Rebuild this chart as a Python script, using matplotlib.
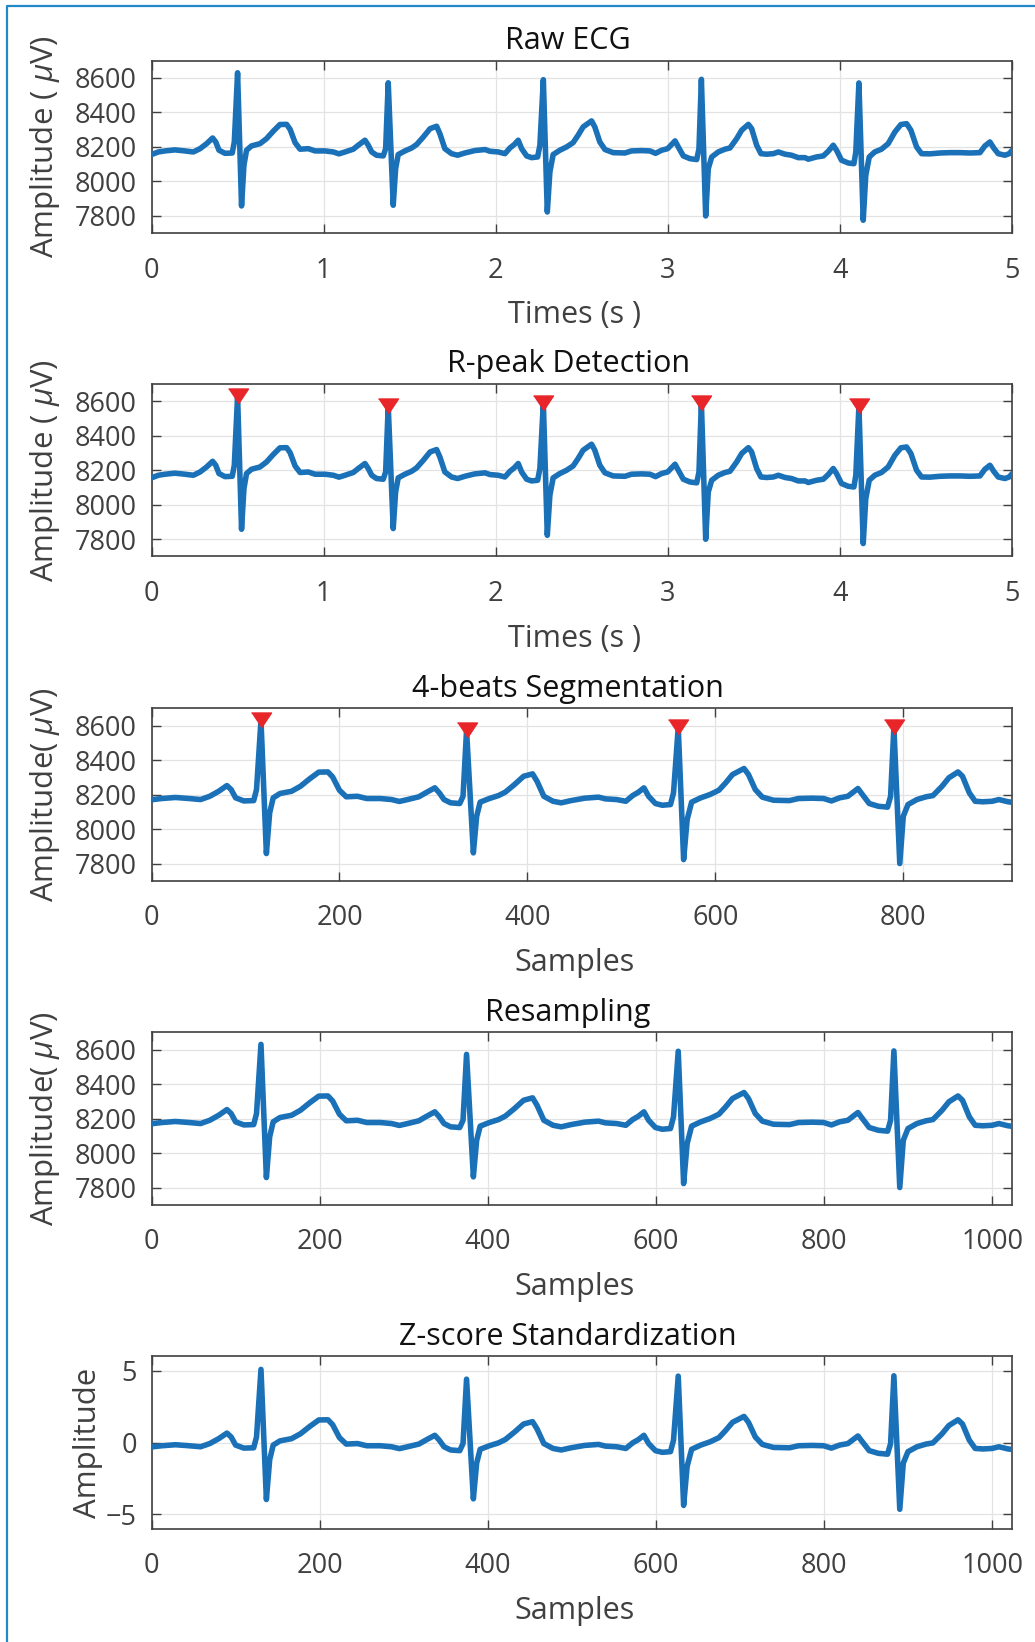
import numpy as np
import matplotlib.pyplot as plt
from matplotlib.lines import Line2D

plt.rcParams['font.family'] = ['Open Sans', 'DejaVu Sans']
plt.rcParams['mathtext.fontset'] = 'custom'
plt.rcParams['mathtext.rm'] = 'Open Sans'
plt.rcParams['mathtext.it'] = 'Open Sans:italic'

FS = 250              # Hz
SEG_START = 0.034     # s, start of the 4-beat segment
SEG_LEN = 916         # samples in the segment
RESAMPLED_LEN = 1024  # samples after resampling
Z_MEAN = 8196.0       # uV
Z_STD = 85.3          # uV

# raw ECG trace (time in s, amplitude in uV)
raw_t = [0.000, 0.040, 0.078, 0.136, 0.194, 0.243, 0.282, 0.320, 0.355, 0.373,
         0.392, 0.427, 0.469, 0.481, 0.500, 0.523, 0.537, 0.552, 0.581, 0.630,
         0.668, 0.707, 0.746, 0.785, 0.805, 0.834, 0.863, 0.911, 0.950, 1.008,
         1.056, 1.089, 1.124, 1.172, 1.201, 1.240, 1.259, 1.279, 1.307, 1.346,
         1.360, 1.375, 1.404, 1.418, 1.433, 1.472, 1.511, 1.540, 1.579, 1.618,
         1.656, 1.675, 1.704, 1.743, 1.778, 1.820, 1.878, 1.937, 1.966, 2.014,
         2.053, 2.082, 2.107, 2.130, 2.150, 2.179, 2.208, 2.243, 2.256, 2.276,
         2.299, 2.314, 2.333, 2.372, 2.411, 2.449, 2.478, 2.507, 2.556, 2.575,
         2.604, 2.634, 2.682, 2.750, 2.788, 2.846, 2.895, 2.928, 2.963, 2.998,
         3.017, 3.041, 3.060, 3.089, 3.128, 3.167, 3.180, 3.194, 3.219, 3.234,
         3.254, 3.292, 3.331, 3.360, 3.399, 3.428, 3.467, 3.486, 3.515, 3.540,
         3.573, 3.612, 3.641, 3.680, 3.718, 3.757, 3.796, 3.815, 3.863, 3.902,
         3.931, 3.960, 3.979, 4.008, 4.047, 4.080, 4.091, 4.109, 4.134, 4.149,
         4.169, 4.201, 4.240, 4.279, 4.318, 4.353, 4.386, 4.411, 4.444, 4.473,
         4.521, 4.580, 4.638, 4.696, 4.754, 4.812, 4.841, 4.870, 4.892, 4.918,
         4.957, 4.982, 5.000]
raw_uv = [8156, 8171, 8177, 8183, 8177, 8171, 8190, 8219, 8252, 8229,
          8181, 8163, 8165, 8229, 8630, 7858, 8094, 8181, 8206, 8219,
          8248, 8291, 8330, 8331, 8302, 8225, 8187, 8190, 8177, 8177,
          8171, 8160, 8171, 8187, 8210, 8239, 8210, 8171, 8152, 8148,
          8190, 8572, 7862, 8074, 8156, 8177, 8194, 8214, 8258, 8306,
          8320, 8277, 8190, 8161, 8152, 8165, 8179, 8185, 8175, 8171,
          8161, 8194, 8214, 8239, 8190, 8148, 8138, 8142, 8210, 8590,
          7823, 8055, 8156, 8181, 8200, 8225, 8268, 8316, 8351, 8316,
          8229, 8185, 8167, 8165, 8177, 8179, 8177, 8163, 8181, 8190,
          8210, 8235, 8200, 8148, 8132, 8127, 8190, 8592, 7800, 8074,
          8142, 8171, 8187, 8194, 8248, 8297, 8331, 8306, 8210, 8161,
          8158, 8161, 8171, 8158, 8152, 8138, 8138, 8129, 8142, 8148,
          8175, 8210, 8181, 8123, 8107, 8103, 8171, 8571, 7775, 8036,
          8142, 8171, 8187, 8219, 8287, 8330, 8335, 8297, 8200, 8161,
          8160, 8165, 8167, 8167, 8165, 8167, 8206, 8229, 8194, 8161,
          8152, 8161, 8181]

r_peak_t = [0.500, 1.375, 2.276, 3.194, 4.109]
r_peak_uv = [8630, 8572, 8590, 8592, 8571]

LINE_C = '#1a71b8'
PEAK_C = '#e8262a'
TXT_C = '#404040'
W, H = 1035, 1642
AX_L, AX_W, AX_H = 151.5, 860.8, 172.5
tops = [60.7, 384.0, 708.3, 1032.3, 1356.3]

raw_t = np.array(raw_t)
raw_uv = np.array(raw_uv)
r_peak_t = np.array(r_peak_t)
r_peak_uv = np.array(r_peak_uv)

seg_x = (raw_t - SEG_START) * FS
seg_pk = (r_peak_t[:4] - SEG_START) * FS
res_x = seg_x * RESAMPLED_LEN / SEG_LEN
z_val = (raw_uv - Z_MEAN) / Z_STD

tri = [(-1, 0.75), (1, 0.75), (0, -0.75)]

fig = plt.figure(figsize=(W / 100, H / 100), dpi=100)

panels = [
    dict(title='Raw ECG', x=raw_t, y=raw_uv, xlim=(0, 5), xt=np.arange(0, 6),
         xl='Times (s )', yl=r'Amplitude ( $\mu$V)', pk=None),
    dict(title='R-peak Detection', x=raw_t, y=raw_uv, xlim=(0, 5), xt=np.arange(0, 6),
         xl='Times (s )', yl=r'Amplitude ( $\mu$V)', pk=(r_peak_t, r_peak_uv)),
    dict(title='4-beats Segmentation', x=seg_x, y=raw_uv, xlim=(0, SEG_LEN),
         xt=np.arange(0, 801, 200), xl='Samples', yl=r'Amplitude( $\mu$V)',
         pk=(seg_pk, r_peak_uv[:4])),
    dict(title='Resampling', x=res_x, y=raw_uv, xlim=(0, RESAMPLED_LEN),
         xt=np.arange(0, 1001, 200), xl='Samples', yl=r'Amplitude( $\mu$V)', pk=None),
    dict(title='Z-score Standardization', x=res_x, y=z_val, xlim=(0, RESAMPLED_LEN),
         xt=np.arange(0, 1001, 200), xl='Samples', yl='Amplitude', pk=None),
]

for i, p in enumerate(panels):
    top = tops[i]
    ax = fig.add_axes([AX_L / W, 1 - (top + AX_H) / H, AX_W / W, AX_H / H])
    ax.plot(p['x'], p['y'], color=LINE_C, lw=4.0, solid_joinstyle='round',
            solid_capstyle='round', zorder=3)
    if p['pk'] is not None:
        ax.plot(p['pk'][0], p['pk'][1], ls='none', marker=tri, ms=14.4,
                color=PEAK_C, mec=PEAK_C, zorder=4)
    ax.set_xlim(*p['xlim'])
    ax.set_xticks(p['xt'])
    if i < 4:
        ax.set_ylim(7700, 8700)
        ax.set_yticks(np.arange(7800, 8601, 200))
        ylab_x = -0.104
    else:
        ax.set_ylim(-6, 6)
        ax.set_yticks([-5, 0, 5])
        ylab_x = -0.056
    ax.set_axisbelow(True)
    ax.grid(True, color='#e3e3e3', lw=0.9)
    ax.tick_params(direction='in', length=6.8, width=1.0, top=True, right=True,
                   colors=TXT_C, labelsize=19.5)
    ax.tick_params(axis='x', pad=17)
    ax.tick_params(axis='y', pad=10.5)
    for s in ax.spines.values():
        s.set_color(TXT_C)
        s.set_linewidth(1.2)
    ax.set_title(p['title'], fontsize=22, color='#111111', x=0.484, pad=8.3)
    ax.set_xlabel(p['xl'], fontsize=22, color=TXT_C, va='top')
    ax.xaxis.set_label_coords(0.491, -0.39)
    ax.set_ylabel(p['yl'], fontsize=22.5, color=TXT_C)
    ax.yaxis.set_label_coords(ylab_x, 0.5)

# blue frame on the top and left edges
fig.add_artist(Line2D([6.7 / W, 6.7 / W, 1.0], [0.0, 1 - 5.7 / H, 1 - 5.7 / H],
                      transform=fig.transFigure, color='#2188c9', lw=1.6))

fig.savefig('out.png', dpi=100)
